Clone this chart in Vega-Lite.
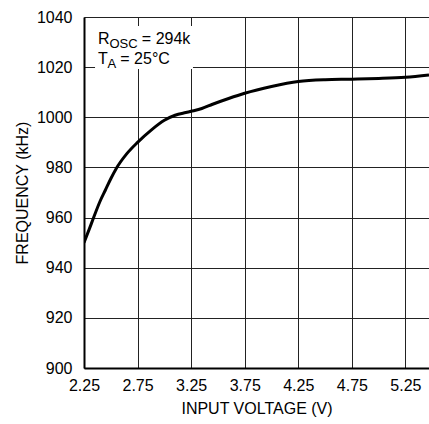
{
  "$schema": "https://vega.github.io/schema/vega-lite/v6.json",
  "width": 345,
  "height": 351,
  "autosize": {"type": "none"},
  "padding": {"left": 84, "top": 17, "right": 0, "bottom": 56},
  "background": "white",
  "config": {
    "view": {"stroke": null},
    "font": "Liberation Sans",
    "axis": {
      "labelFont": "Liberation Sans",
      "titleFont": "Liberation Sans",
      "labelFontSize": 16,
      "titleFontSize": 16,
      "titleFontWeight": "normal",
      "labelColor": "black",
      "titleColor": "black",
      "gridColor": "#222",
      "gridWidth": 1,
      "gridOpacity": 1,
      "domainColor": "black",
      "domainWidth": 2,
      "ticks": false
    }
  },
  "datasets": {
    "curve": [
      {"v": 2.25, "f": 950.0},
      {"v": 2.30, "f": 955.5},
      {"v": 2.34, "f": 960.0},
      {"v": 2.40, "f": 966.5},
      {"v": 2.45, "f": 971.0},
      {"v": 2.50, "f": 975.5},
      {"v": 2.55, "f": 979.5},
      {"v": 2.65, "f": 985.5},
      {"v": 2.75, "f": 990.0},
      {"v": 2.88, "f": 995.0},
      {"v": 3.00, "f": 998.8},
      {"v": 3.10, "f": 1000.8},
      {"v": 3.20, "f": 1001.9},
      {"v": 3.25, "f": 1002.4},
      {"v": 3.35, "f": 1003.5},
      {"v": 3.45, "f": 1005.2},
      {"v": 3.60, "f": 1007.5},
      {"v": 3.75, "f": 1009.6},
      {"v": 4.00, "f": 1012.3},
      {"v": 4.25, "f": 1014.3},
      {"v": 4.50, "f": 1015.0},
      {"v": 4.75, "f": 1015.2},
      {"v": 5.00, "f": 1015.5},
      {"v": 5.25, "f": 1016.0},
      {"v": 5.47, "f": 1016.9}
    ],
    "box": [{"v1": 2.353, "v2": 3.267, "f1": 1019.3, "f2": 1036.4}],
    "bigText": [
      {"label": "R", "v": 2.38, "f": 1029.2},
      {"label": "= 294k", "v": 2.79, "f": 1029.2},
      {"label": "T", "v": 2.38, "f": 1021.3},
      {"label": "= 25°C", "v": 2.589, "f": 1021.3}
    ],
    "subText": [
      {"label": "OSC", "v": 2.487, "f": 1027.6},
      {"label": "A", "v": 2.469, "f": 1019.7}
    ]
  },
  "encoding": {
    "x": {
      "field": "v",
      "type": "quantitative",
      "scale": {"domain": [2.25, 5.47], "nice": false, "zero": false},
      "axis": {
        "title": "INPUT VOLTAGE (V)",
        "values": [2.25, 2.75, 3.25, 3.75, 4.25, 4.75, 5.25],
        "format": ".2f",
        "labelPadding": 9,
        "titlePadding": 7,
        "labelFlush": false
      }
    },
    "y": {
      "field": "f",
      "type": "quantitative",
      "scale": {"domain": [900, 1040], "nice": false, "zero": false},
      "axis": {
        "title": "FREQUENCY (kHz)",
        "values": [900, 920, 940, 960, 980, 1000, 1020, 1040],
        "format": "d",
        "labelPadding": 12,
        "titlePadding": 6,
        "labelFlush": false
      }
    }
  },
  "layer": [
    {
      "data": {"name": "box"},
      "mark": {"type": "rect", "fill": "white", "stroke": null},
      "encoding": {
        "x": {"field": "v1", "type": "quantitative"},
        "x2": {"field": "v2"},
        "y": {"field": "f1", "type": "quantitative"},
        "y2": {"field": "f2"}
      }
    },
    {
      "data": {"name": "curve"},
      "mark": {"type": "line", "color": "black", "strokeWidth": 3, "interpolate": "monotone", "clip": true}
    },
    {
      "data": {"name": "bigText"},
      "mark": {"type": "text", "align": "left", "baseline": "alphabetic", "fontSize": 16, "color": "black", "font": "Liberation Sans"},
      "encoding": {"text": {"field": "label"}}
    },
    {
      "data": {"name": "subText"},
      "mark": {"type": "text", "align": "left", "baseline": "alphabetic", "fontSize": 13, "color": "black", "font": "Liberation Sans"},
      "encoding": {"text": {"field": "label"}}
    }
  ]
}
